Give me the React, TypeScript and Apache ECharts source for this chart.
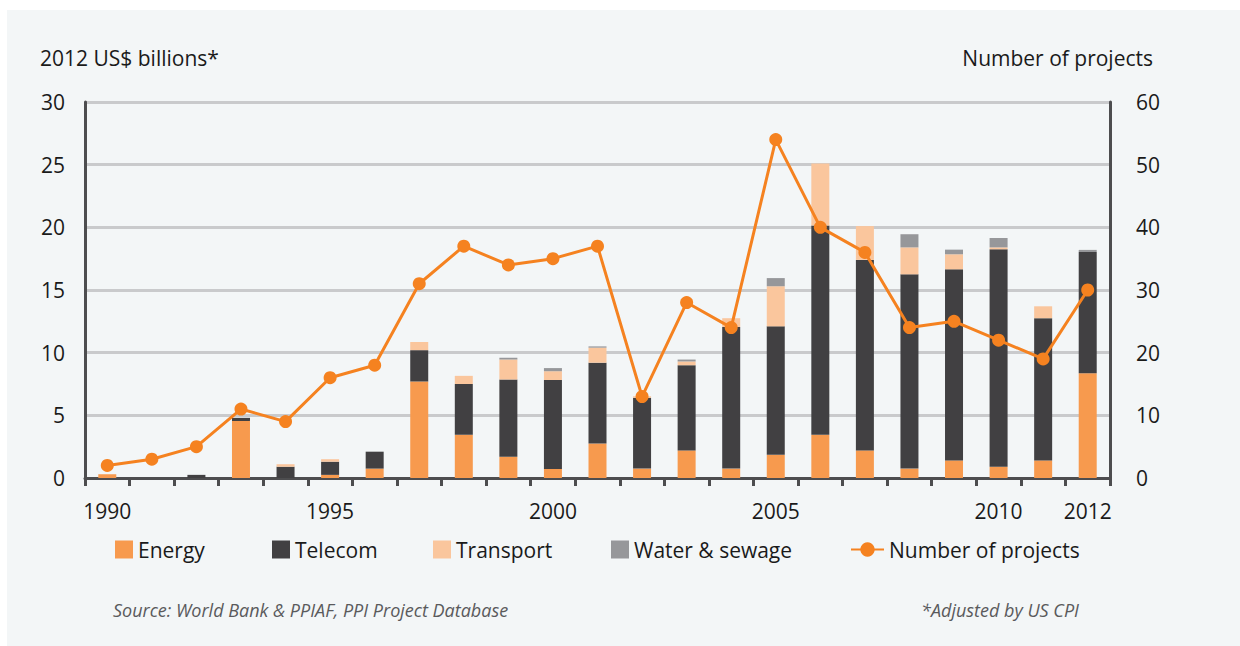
import React, { useEffect, useRef } from "react";
import * as echarts from "echarts";

const years = ["1990","1991","1992","1993","1994","1995","1996","1997","1998","1999","2000","2001","2002","2003","2004","2005","2006","2007","2008","2009","2010","2011","2012"];
const energy = [0.3,0,0,4.55,0,0.25,0.75,7.7,3.45,1.7,0.72,2.75,0.75,2.2,0.75,1.85,3.45,2.2,0.75,1.4,0.9,1.4,8.35];
const telecom = [0,0,0.25,0.25,0.9,1.05,1.35,2.5,4.05,6.15,7.1,6.45,5.65,6.8,11.3,10.25,16.7,15.2,15.5,15.25,17.35,11.35,9.68];
const transport = [0,0,0,0,0.2,0.2,0,0.65,0.65,1.6,0.7,1.2,0.12,0.3,0.7,3.2,4.95,2.7,2.15,1.2,0.15,0.95,0];
const water = [0,0,0,0,0,0,0,0,0,0.15,0.25,0.1,0,0.15,0,0.65,0,0,1.05,0.37,0.75,0,0.17];
const projects = [2,3,5,11,9,16,18,31,37,34,35,37,13,28,24,54,40,36,24,25,22,19,30];
const shownYears = ["1990","1995","2000","2005","2010","2012"];

const FONT = "'Open Sans', 'Noto Sans', sans-serif";
const C_ENERGY = "#f79a4e";
const C_TELECOM = "#414042";
const C_TRANSPORT = "#fac69d";
const C_WATER = "#96979a";
const C_LINE = "#f58220";

export default function App() {
  const ref = useRef<HTMLDivElement>(null);
  useEffect(() => {
    if (!ref.current) return;
    const chart = echarts.init(ref.current, null, { renderer: "svg" });
    const legendText = { fontFamily: FONT, fontSize: 21, color: "#1a1a1a" };
    const mkLegend = (name: string, left: number, w = 18, icon?: string) => ({
      data: [name],
      left,
      top: 534,
      itemWidth: w,
      itemHeight: 18,
      itemGap: 0,
      ...(icon ? { icon } : {}),
      textStyle: legendText,
      selectedMode: false,
    });
    const bar = (name: string, data: number[], color: string) => ({
      name,
      type: "bar",
      stack: "total",
      data,
      barWidth: 18,
      itemStyle: { color },
      yAxisIndex: 0,
    });
    const titleStyle = { fontFamily: FONT, fontSize: 21, fontWeight: "normal", color: "#1a1a1a" };
    const noteStyle = { fontFamily: FONT, fontSize: 18, fontStyle: "italic", fontWeight: "normal", color: "#5a5a5c" };
    chart.setOption({
      animation: false,
      backgroundColor: "transparent",
      textStyle: { fontFamily: FONT },
      title: [
        { text: "2012 US$ billions*", left: 40, top: 47, padding: 0, textStyle: titleStyle },
        { text: "Number of projects", right: 87, top: 47, padding: 0, textStyle: titleStyle },
        { text: "Source: World Bank & PPIAF, PPI Project Database", left: 113, top: 601, padding: 0, textStyle: noteStyle },
        { text: "*Adjusted by US CPI", right: 161, top: 601, padding: 0, textStyle: noteStyle },
      ],
      legend: [
        mkLegend("Energy", 110, 18, "rect"),
        mkLegend("Telecom", 267, 18, "rect"),
        mkLegend("Transport", 428, 18, "rect"),
        mkLegend("Water & sewage", 606, 18, "rect"),
        mkLegend("Number of projects", 845, 33),
      ],
      grid: { left: 85, right: 130, top: 102, bottom: 168 },
      xAxis: {
        type: "category",
        data: years,
        boundaryGap: true,
        axisLine: { lineStyle: { color: "#4d4d4f", width: 3 } },
        axisTick: { show: true, interval: 0, length: 8, lineStyle: { color: "#4d4d4f", width: 3 } },
        axisLabel: {
          interval: (i: number, v: string) => shownYears.includes(v),
          fontFamily: FONT,
          fontSize: 21,
          color: "#1a1a1a",
          margin: 22,
        },
      },
      yAxis: [
        {
          type: "value",
          min: 0,
          max: 30,
          interval: 5,
          axisLine: { show: true, lineStyle: { color: "#4d4d4f", width: 3 } },
          axisTick: { show: false },
          splitLine: { show: true, lineStyle: { color: "#c9cacc", width: 3 } },
          axisLabel: { fontFamily: FONT, fontSize: 21, color: "#1a1a1a", margin: 20 },
        },
        {
          type: "value",
          min: 0,
          max: 60,
          interval: 10,
          position: "right",
          axisLine: { show: true, lineStyle: { color: "#4d4d4f", width: 3 } },
          axisTick: { show: false },
          splitLine: { show: false },
          axisLabel: { fontFamily: FONT, fontSize: 21, color: "#1a1a1a", margin: 26 },
        },
      ],
      series: [
        bar("Energy", energy, C_ENERGY),
        bar("Telecom", telecom, C_TELECOM),
        bar("Transport", transport, C_TRANSPORT),
        bar("Water & sewage", water, C_WATER),
        {
          name: "Number of projects",
          type: "line",
          yAxisIndex: 1,
          data: projects,
          symbol: "circle",
          symbolSize: 13,
          itemStyle: { color: C_LINE },
          lineStyle: { color: C_LINE, width: 3 },
          z: 5,
        },
      ],
    });
    return () => chart.dispose();
  }, []);
  return (
    <div style={{ position: "absolute", left: 0, top: 0, width: 1240, height: 646, background: "#ffffff" }}>
      <div style={{ position: "absolute", left: 7, top: 10, width: 1233, height: 636, background: "#f3f6f7" }} />
      <div ref={ref} style={{ position: "absolute", left: 0, top: 0, width: 1240, height: 646 }} />
    </div>
  );
}
